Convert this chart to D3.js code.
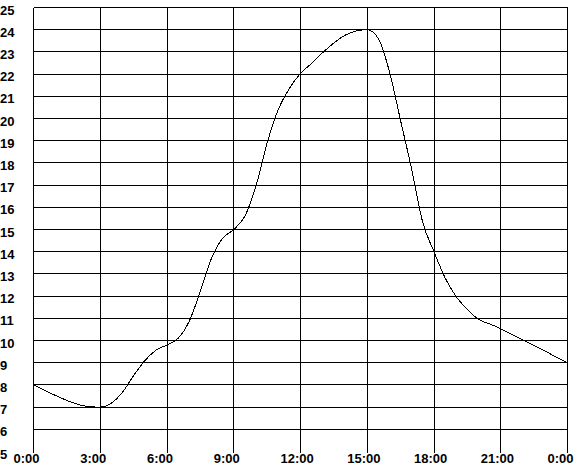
<!DOCTYPE html>
<html>
<head>
<meta charset="utf-8">
<script src="https://cdn.jsdelivr.net/npm/d3@7"></script>
<style>
  html, body { margin: 0; padding: 0; background: #fff; }
  svg text { font-family: "Liberation Sans", Arial, sans-serif; font-weight: bold; font-size: 13px; fill: #000; }
</style>
</head>
<body>
<div id="chart"></div>
<script>
// half-hourly readings, 0:00 to the next 0:00
const hours = [0, 0.5, 1, 1.5, 2, 2.5, 3, 3.5, 4, 4.5, 5, 5.5, 6, 6.5, 7, 7.5, 8, 8.5, 9, 9.5, 10, 10.5, 11, 11.5,
  12, 12.5, 13, 13.5, 14, 14.5, 15, 15.5, 16, 16.5, 17, 17.5, 18, 18.5, 19, 19.5, 20, 20.5, 21, 21.5, 22, 22.5, 23, 23.5, 24]
const temps = [8.0, 7.75, 7.52, 7.3, 7.12, 7.02, 7.0, 7.18, 7.67, 8.42, 9.09, 9.56, 9.8, 10.1, 10.87, 12.22, 13.7, 14.6,
  15.0, 15.6, 16.96, 18.9, 20.4, 21.35, 22.03, 22.48, 22.97, 23.4, 23.75, 23.94, 24.0, 23.6, 22.1, 19.9, 17.7, 15.3,
  14.0, 12.82, 11.97, 11.4, 10.95, 10.75, 10.53, 10.27, 10.02, 9.78, 9.52, 9.25, 9.0]

const xTickHours = [0, 3, 6, 9, 12, 15, 18, 21, 24]
const xTickLabels = ["0:00", "3:00", "6:00", "9:00", "12:00", "15:00", "18:00", "21:00", "0:00"]
const yTickValues = [5, 6, 7, 8, 9, 10, 11, 12, 13, 14, 15, 16, 17, 18, 19, 20, 21, 22, 23, 24, 25]

const width = 576
const height = 469
const plotLeft = 33.5, plotRight = 567.5, plotTop = 7.5, plotBottom = 451.5

const svg = d3.select("#chart")
  .append("svg")
  .attr("width", width)
  .attr("height", height)

const x = d3.scaleLinear().domain([0, 24]).range([plotLeft, plotRight])
const y = d3.scaleLinear().domain([5, 25]).range([plotBottom, plotTop])

const snap = v => Math.round(v - 0.5) + 0.5

// horizontal grid (no line at the bottom value)
svg.selectAll("line.hgrid")
  .data(yTickValues.filter(v => v > 5))
  .enter()
    .append("line")
    .attr("class", "hgrid")
    .attr("x1", plotLeft)
    .attr("x2", plotRight)
    .attr("y1", d => snap(y(d)))
    .attr("y2", d => snap(y(d)))
    .attr("stroke", "#000")
    .attr("stroke-width", 1)
    .attr("shape-rendering", "crispEdges")

// vertical grid
svg.selectAll("line.vgrid")
  .data(xTickHours)
  .enter()
    .append("line")
    .attr("class", "vgrid")
    .attr("x1", d => snap(x(d)))
    .attr("x2", d => snap(x(d)))
    .attr("y1", plotTop)
    .attr("y2", plotBottom + 1)
    .attr("stroke", "#000")
    .attr("stroke-width", 1)
    .attr("shape-rendering", "crispEdges")

// y labels
svg.selectAll("text.ylab")
  .data(yTickValues)
  .enter()
    .append("text")
    .attr("class", "ylab")
    .attr("x", 0)
    .attr("y", d => y(d) + 7)
    .text(d => d)

// x labels
svg.selectAll("text.xlab")
  .data(xTickHours)
  .enter()
    .append("text")
    .attr("class", "xlab")
    .attr("x", d => x(d) - 20)
    .attr("y", 463)
    .text((d, i) => xTickLabels[i])

const line = d3.line()
  .x((d, i) => x(hours[i]))
  .y(d => y(d))
  .curve(d3.curveMonotoneX)

svg.append("path")
  .datum(temps)
  .attr("d", line)
  .attr("fill", "none")
  .attr("stroke", "#000")
  .attr("stroke-width", 1)
  .attr("shape-rendering", "crispEdges")
</script>
</body>
</html>
